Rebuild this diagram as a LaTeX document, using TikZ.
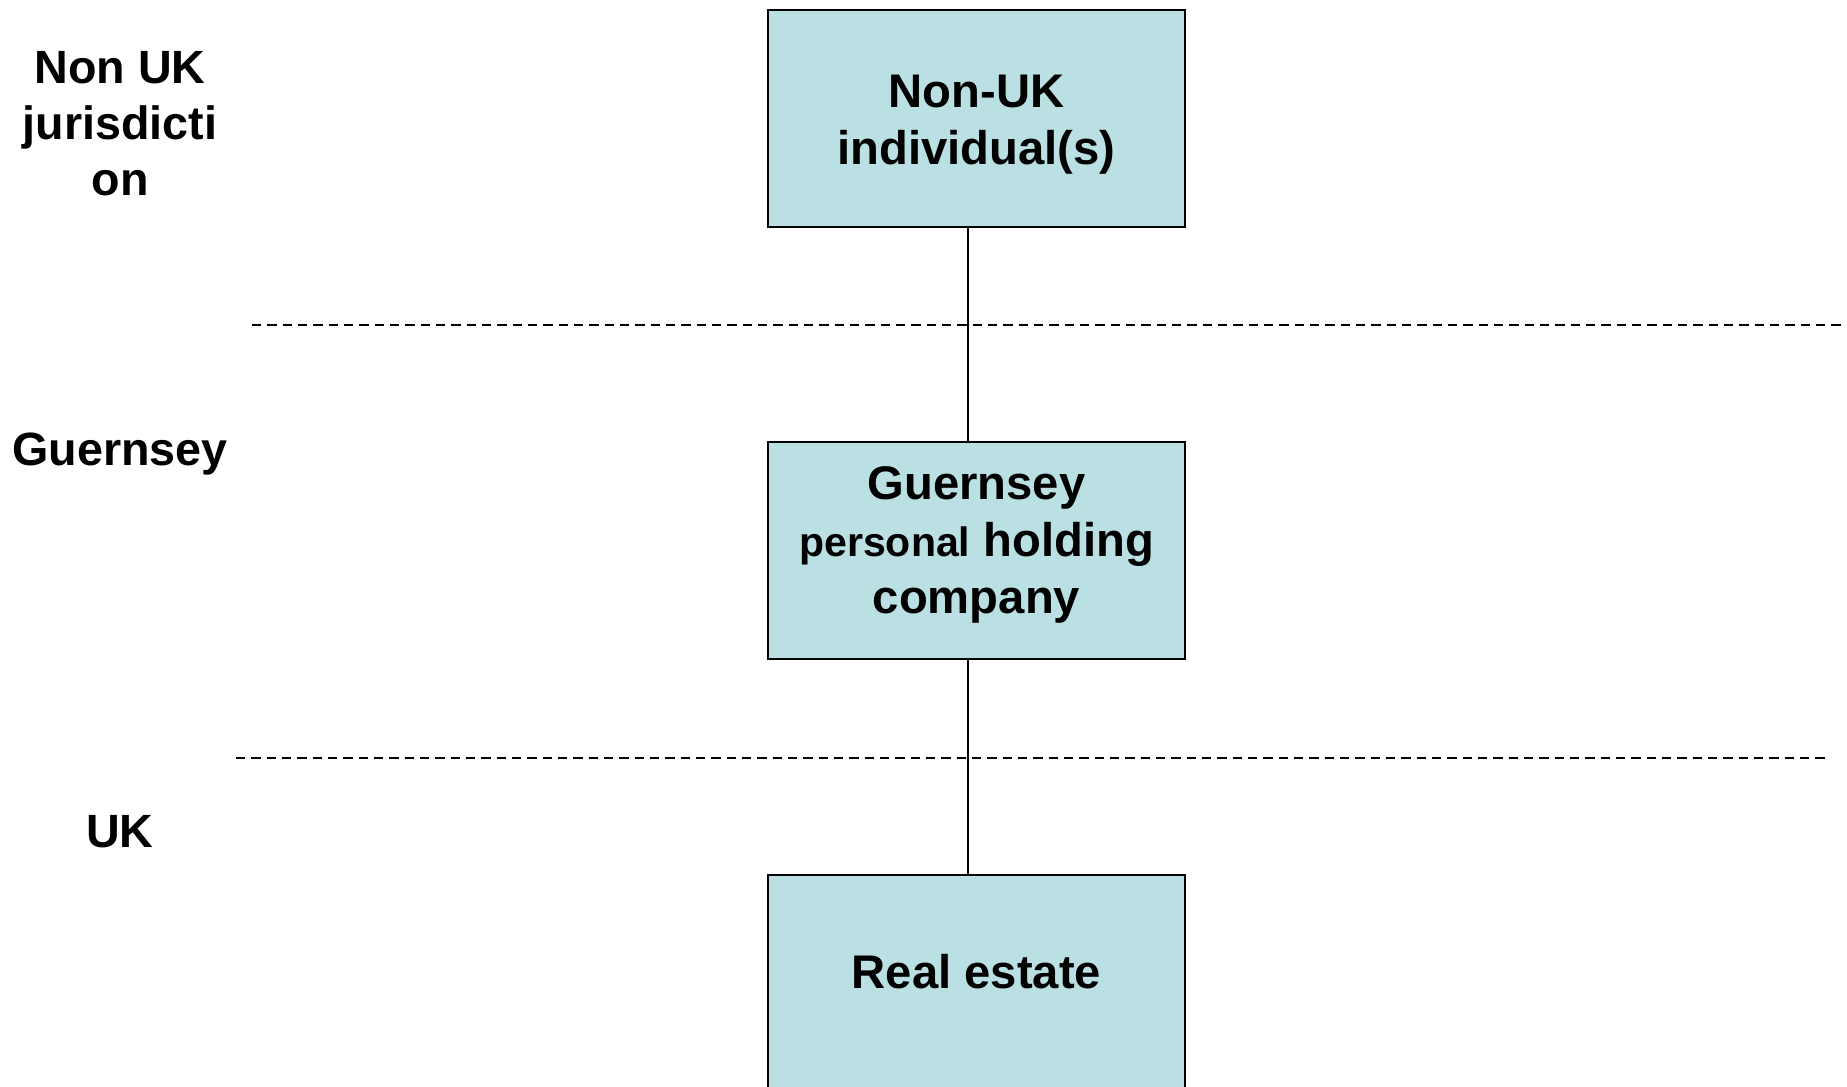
\documentclass[tikz,border=0pt]{standalone}
\usepackage{fontspec}
\setmainfont{Liberation Sans}
\definecolor{boxfill}{RGB}{187,224,227}
\tikzset{every picture/.style={line width=0.75pt}}
\tikzset{
  entity/.style={draw, line width=1.5, fill=boxfill, minimum width=312.75pt, minimum height=162.75pt, inner sep=0pt},
  boxtext/.style={align=center, inner sep=0pt, font=\bfseries\fontsize{35.4}{42.5}\selectfont},
  region/.style={align=center, inner sep=0pt, font=\bfseries\fontsize{35}{42}\selectfont},
  border/.style={line width=1.5, dash pattern=on 7pt off 4.5pt},
  link/.style={line width=1.5},
}

\begin{document}
\begin{tikzpicture}[x=0.75pt,y=0.75pt,yscale=-1,xscale=1]
	\useasboundingbox (0,0) rectangle (1847,1086);

	%Straight Lines: jurisdiction borders
	\draw [border] (252,325) -- (1847,325) ;
	\draw [border] (236,758) -- (1830,758) ;

	% Text Node
	\node [region] (nonuk) at (120,123.5) {Non UK\\jurisdicti\\on};
	% Text Node
	\node [region] (guern) at (120,454.5) {Guernsey};
	% Text Node
	\node [region] (uk) at (120,832) {UK};

	%Shape: Rectangle
	\node [entity] (inds) at (976.5,118.5) {};
	\node [boxtext] (indstext) at (976.5,124.5) {Non-UK\\individual(s)};
	%Shape: Rectangle
	\node [entity] (hold) at (976.5,550.5) {};
	\node [boxtext] (holdtext) at (976.5,545) {Guernsey\\{\fontsize{30.8}{42.5}\selectfont personal} holding\\company};
	%Shape: Rectangle
	\node [entity] (estate) at (976.5,983.5) {};
	\node [boxtext] (estatetext) at (976.5,972) {Real estate};

	%Straight Lines
	\coordinate (stem) at (968,0);
	\draw [link] (inds.south -| stem) -- (hold.north -| stem) ;
	\draw [link] (hold.south -| stem) -- (estate.north -| stem) ;

\end{tikzpicture}
\end{document}
